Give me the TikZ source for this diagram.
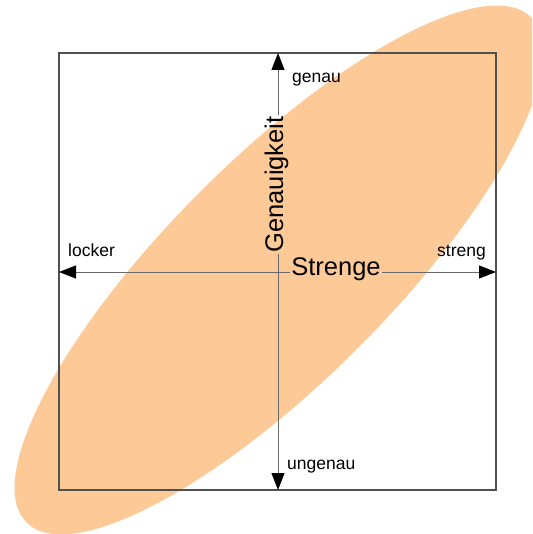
\documentclass[tikz,border=0pt]{standalone}
\usepackage{fontspec}
\setmainfont{Liberation Sans}
\usetikzlibrary{arrows.meta,positioning}
\definecolor{Peach}{RGB}{253,201,150}
\definecolor{Frame}{HTML}{505050}
\definecolor{AxisGray}{HTML}{6A6A6A}
\tikzset{
  frame/.style={draw=Frame,line width=1.4pt},
  axisline/.style={draw=AxisGray,line width=1pt,-{Triangle[length=17pt,width=13pt,color=black]}},
  pole/.style={font=\fontsize{17.5}{20}\selectfont,inner sep=0pt},
  axislabel/.style={font=\fontsize{25.5}{28}\selectfont,inner sep=1.5pt}
}
\begin{document}
\begin{tikzpicture}[x=1pt,y=-1pt]
  \useasboundingbox (0,0) rectangle (532,534);
  % orange cloud behind everything
  \begin{scope}
    \clip (0,0) rectangle (532,534);
    \fill[Peach,rotate around={45:(279,270)}] (279,270) ellipse [x radius=357pt,y radius=111pt];
  \end{scope}

  \coordinate (nw) at (59,53);
  \coordinate (se) at (496,490);
  \coordinate (gtop) at (278,53);
  \coordinate (gbot) at (278,490);
  \coordinate (slft) at (59,272);
  \coordinate (srgt) at (496,272);
  \draw[frame] (nw) rectangle (se);

  \node[axislabel,rotate=90,anchor=base] (gen) at (283,184.5) {Genauigkeit};
  \node[axislabel,anchor=base] (str) at (336,275) {Strenge};

  \draw[axisline] (gen.east -| gtop) -- (gtop);
  \draw[axisline] (gen.west -| gbot) -- (gbot);
  \draw[axisline] (str.west |- slft) -- (slft);
  \draw[axisline] (str.east |- srgt) -- (srgt);

  \node[pole,anchor=base west] (genau) at (292,83) {genau};
  \node[pole,anchor=base west] (ungenau) at (287,469) {ungenau};
  \node[pole,anchor=base west] (locker) at (68,256) {locker};
  \node[pole,anchor=base east] (streng) at (486,256) {streng};
\end{tikzpicture}
\end{document}
